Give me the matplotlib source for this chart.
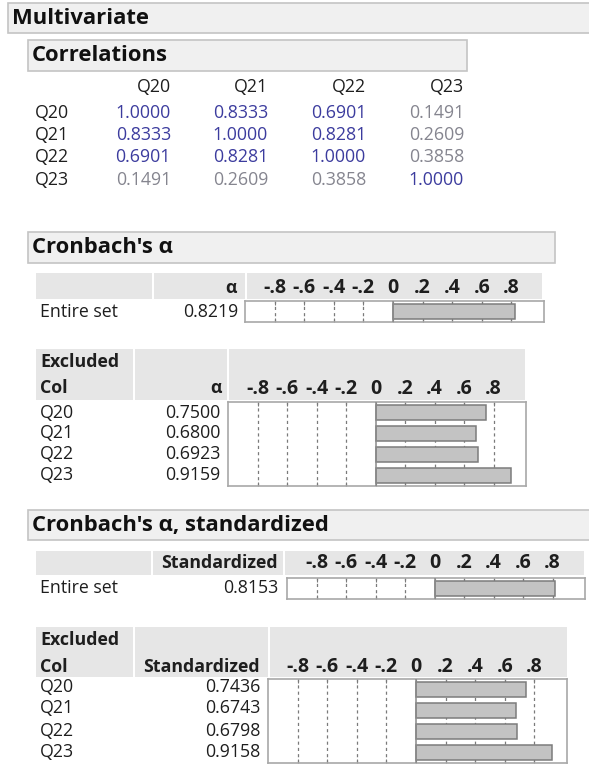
import numpy as np
import matplotlib.pyplot as plt
from matplotlib.patches import Rectangle

plt.rcParams['font.family'] = ['Open Sans', 'DejaVu Sans']

W, H = 589, 765

items = ["Q20", "Q21", "Q22", "Q23"]
corr = np.array([
    [1.0000, 0.8333, 0.6901, 0.1491],
    [0.8333, 1.0000, 0.8281, 0.2609],
    [0.6901, 0.8281, 1.0000, 0.3858],
    [0.1491, 0.2609, 0.3858, 1.0000],
])
alpha_all = 0.8219
alpha_excl = [0.7500, 0.6800, 0.6923, 0.9159]
std_all = 0.8153
std_excl = [0.7436, 0.6743, 0.6798, 0.9158]
ticks = [-0.8, -0.6, -0.4, -0.2, 0, 0.2, 0.4, 0.6, 0.8]
tick_labels = ["-.8", "-.6", "-.4", "-.2", "0", ".2", ".4", ".6", ".8"]

TXT = '#1e1e1e'
FS = 12.8

fig = plt.figure(figsize=(W / 100, H / 100), dpi=100)
base = fig.add_axes([0, 0, 1, 1])
base.set_xlim(0, W)
base.set_ylim(H, 0)
base.axis('off')


def section_box(x0, y0, x1, y1, title):
    base.add_patch(Rectangle((x0, y0), x1 - x0, y1 - y0, fc='#f0f0f0', ec='#c4c4c4', lw=1.2))
    base.text(x0 + 4, (y0 + y1) / 2, title, fontsize=15.8, fontweight='bold',
              va='center', ha='left', color='#111111')


def header_cells(y0, y1, edges):
    for a, b in edges:
        base.add_patch(Rectangle((a, y0), b - a, y1 - y0, fc='#e6e6e6', ec='none'))


def txt(x, y, s, ha='left', bold=False, color=TXT, fs=FS):
    base.text(x, y, s, fontsize=fs, ha=ha, va='center', color=color,
              fontweight='bold' if bold else 'normal')


def bar_panel(l, t, r, b, vals, pad):
    ax = fig.add_axes([l / W, 1 - b / H, (r - l) / W, (b - t) / H])
    y = np.arange(len(vals))
    for v in ticks:
        if v != 0:
            ax.axvline(v, color='#7a7a7a', lw=0.9, ls=(0, (2.5, 2.5)), zorder=1)
    ax.barh(y, vals, height=0.68, color='#c3c3c3', edgecolor='#7c7c7c', lw=1.1, zorder=2)
    ax.axvline(0, color='#8a8a8a', lw=1.1, zorder=3)
    ax.set_xlim(-1.0, 1.02)
    ax.set_ylim(len(vals) - 0.5, -0.5)
    ax.set_yticks([])
    ax.set_xticks(ticks)
    ax.set_xticklabels(tick_labels, fontweight='bold', fontsize=14, color=TXT)
    ax.tick_params(axis='x', top=True, bottom=True, labeltop=True, labelbottom=False,
                   direction='in', length=3, color='#7a7a7a', pad=pad)
    for s in ax.spines.values():
        s.set_color('#a8a8a8')
        s.set_linewidth(1.2)
    return ax


# Multivariate / Correlations
section_box(8, 3, 600, 33, "Multivariate")
section_box(28, 40, 467, 71, "Correlations")
col_right = [171, 268, 366, 464]
row_y = [113, 135, 157, 180]
for j, name in enumerate(items):
    txt(col_right[j], 87, name, ha='right')
for i, name in enumerate(items):
    txt(35, row_y[i], name)
    for j in range(len(items)):
        c = '#3c3c9e' if abs(corr[i, j]) >= 0.5 else '#85858f'
        txt(col_right[j], row_y[i], f"{corr[i, j]:.4f}", ha='right', color=c)

# Cronbach's alpha
section_box(28, 232, 555, 263, "Cronbach's α")
header_cells(273, 299, [(36, 152), (154, 245), (247, 542)])
txt(237, 288, "α", ha='right', bold=True)
txt(40, 312, "Entire set")
txt(238, 312, f"{alpha_all:.4f}", ha='right')
bar_panel(245, 301, 544, 322, [alpha_all], pad=2)

header_cells(349, 400, [(36, 133), (135, 227), (229, 525)])
txt(40, 362, "Excluded", bold=True)
txt(40, 388, "Col", bold=True)
txt(222, 388, "α", ha='right', bold=True)
excl_y = [413, 433, 454, 475]
for i, name in enumerate(items):
    txt(40, excl_y[i], name)
    txt(220, excl_y[i], f"{alpha_excl[i]:.4f}", ha='right')
bar_panel(228, 402, 526, 486, alpha_excl, pad=2)

# Cronbach's alpha, standardized
section_box(28, 510, 600, 540, "Cronbach's α, standardized")
header_cells(551, 575, [(36, 151), (153, 283), (285, 584)])
txt(278, 563, "Standardized", ha='right', bold=True)
txt(40, 588, "Entire set")
txt(278, 588, f"{std_all:.4f}", ha='right')
bar_panel(287, 578, 585, 599, [std_all], pad=3.5)

header_cells(627, 677, [(36, 133), (135, 268), (270, 567)])
txt(40, 640, "Excluded", bold=True)
txt(40, 667, "Col", bold=True)
txt(260, 667, "Standardized", ha='right', bold=True)
std_y = [687, 708, 731, 752]
for i, name in enumerate(items):
    txt(40, std_y[i], name)
    txt(260, std_y[i], f"{std_excl[i]:.4f}", ha='right')
bar_panel(268, 679, 567, 763, std_excl, pad=1.5)

fig.savefig("out.png", dpi=100)
